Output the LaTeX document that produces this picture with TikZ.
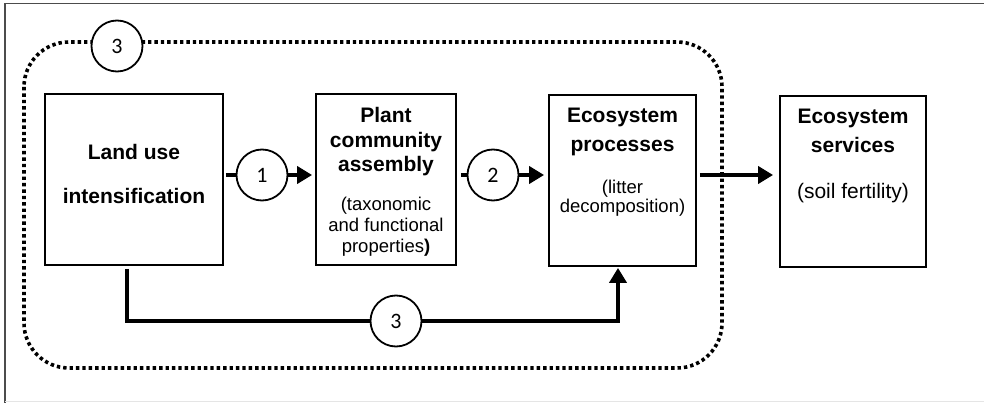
\documentclass[tikz,border=0pt]{standalone}
\usepackage{fontspec}
\setmainfont{Liberation Sans}
\newfontfamily\numfont{Carlito}
\usetikzlibrary{arrows.meta,positioning}

\begin{document}
\begin{tikzpicture}[
    x=1pt, y=-1pt,
    box/.style ={rectangle, draw, line width=1.8pt, inner sep=0pt},
    ttl/.style ={align=center, inner sep=0pt, font=\fontsize{21}{24.5}\selectfont\bfseries},
    sub/.style ={align=center, inner sep=0pt, font=\fontsize{18.5}{21}\selectfont},
    num/.style ={circle, draw, fill=white, line width=1.8pt, minimum size=51pt, inner sep=0pt, font=\numfont\fontsize{22}{22}\selectfont},
    conn/.style={line width=4pt},
    arr/.style ={line width=4pt, -{Triangle[length=15pt, width=17pt]}}
]
  \useasboundingbox (0,0) rectangle (984,403);

  % outer frame
  \draw[gray!60!black, line width=1.5pt] (5,403) -- (5,3.5) -- (984,3.5);
  \draw[gray!20, line width=1pt] (5,401.5) -- (984,401.5);

  % dotted region around the first three steps
  \draw[line width=3.6pt, dash pattern=on 3.4pt off 3pt, rounded corners=45pt]
    (24,42) rectangle (722,368);

  % boxes
  \node[box, minimum width=178pt, minimum height=171pt] (land)  at (134,179.5) {};
  \node[box, minimum width=140pt, minimum height=171pt] (plant) at (386,179.5) {};
  \node[box, minimum width=147pt, minimum height=171pt] (proc)  at (622.5,180.5) {};
  \node[box, minimum width=146pt, minimum height=171pt] (serv)  at (853,181.5) {};

  \node[ttl, font=\fontsize{21}{44}\selectfont\bfseries, below=51pt of land.north] (landT) {Land use\\intensification};

  \node[ttl, below=14pt of plant.north] (plantT) {Plant\\community\\assembly};
  \node[sub, below=103.5pt of plant.north] (plantS) {(taxonomic\\and functional\\properties\textbf{)}};

  \node[ttl, font=\fontsize{21}{29}\selectfont\bfseries, below=14pt of proc.north] (procT) {Ecosystem\\processes};
  \node[sub, font=\fontsize{18.5}{19}\selectfont, below=85.5pt of proc.north] (procS) {(litter\\decomposition)};

  \node[ttl, font=\fontsize{21}{29}\selectfont\bfseries, below=14pt of serv.north] (servT) {Ecosystem\\services};
  \node[sub, font=\fontsize{21}{21}\selectfont, below=87.7pt of serv.north] (servS) {(soil fertility)};

  % numbered links
  \node[num] (n1)  at (262,175) {1};
  \node[num] (n2)  at (493,175) {2};
  \node[num] (n3a) at (117,46)  {3};
  \node[num] (n3b) at (396,321) {3};

  \draw[conn] ([xshift=2pt]land.east |- n1) -- (n1);
  \draw[arr]  (n1) -- ([xshift=-3pt]plant.west |- n1);
  \draw[conn] ([xshift=4pt]plant.east |- n2) -- (n2);
  \draw[arr]  (n2) -- ([xshift=-4pt]proc.west |- n2);
  \draw[arr]  ([xshift=3pt]proc.east |- n2) -- ([xshift=-6pt]serv.west |- n2);

  \draw[conn] ([xshift=-7pt, yshift=-3pt]land.south) |- (n3b);
  \draw[arr]  (n3b) -| ([xshift=-4.5pt, yshift=-1pt]proc.south);
\end{tikzpicture}
\end{document}
